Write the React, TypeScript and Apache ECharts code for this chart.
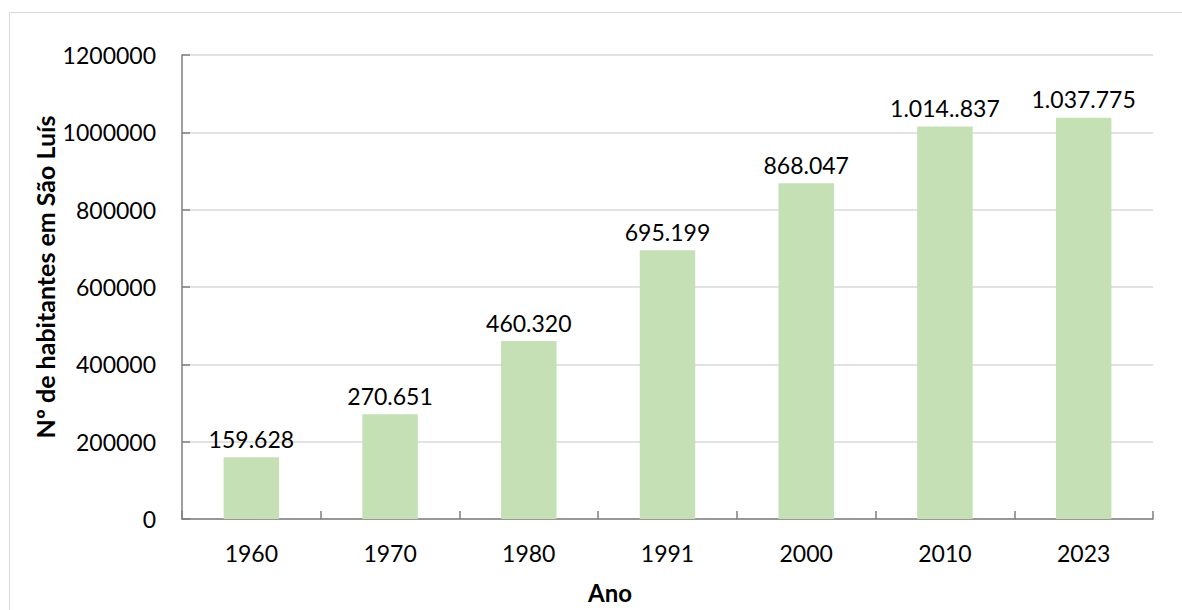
import React, { useEffect, useRef } from "react";
import * as echarts from "echarts";

const years = ["1960", "1970", "1980", "1991", "2000", "2010", "2023"];
const population = [159628, 270651, 460320, 695199, 868047, 1014837, 1037775];
const valueLabels = ["159.628", "270.651", "460.320", "695.199", "868.047", "1.014..837", "1.037.775"];
const yTicks = { min: 0, max: 1200000, interval: 200000 };
const xTitle = "Ano";
const yTitle = "Nº de habitantes em São Luís";

const FONT = "Lato";

export default function App() {
  const ref = useRef<HTMLDivElement>(null);
  useEffect(() => {
    document.body.style.margin = "0";
    const chart = echarts.init(ref.current!, null, { renderer: "svg" });
    chart.setOption({
      animation: false,
      backgroundColor: "#ffffff",
      textStyle: { fontFamily: FONT },
      graphic: [
        {
          type: "rect",
          shape: { x: 9.5, y: 12.5, width: 1200, height: 700 },
          style: { fill: "none", stroke: "#d9d9d9", lineWidth: 1 },
          silent: true,
        },
        {
          type: "text",
          x: 610,
          y: 592,
          style: {
            text: xTitle,
            fontFamily: FONT,
            fontSize: 24,
            fontWeight: "bold",
            fill: "#000",
            align: "center",
            verticalAlign: "middle",
          },
        },
        {
          type: "text",
          x: 45,
          y: 277,
          rotation: Math.PI / 2,
          style: {
            text: yTitle,
            fontFamily: FONT,
            fontSize: 25,
            fontWeight: "bold",
            fill: "#000",
            align: "center",
            verticalAlign: "middle",
          },
        },
      ],
      grid: { left: 182, right: 29, top: 55, bottom: 91 },
      xAxis: {
        type: "category",
        data: years,
        axisLine: { lineStyle: { color: "#7f7f7f", width: 1.5 } },
        axisTick: { show: true, inside: true, length: 8, lineStyle: { color: "#7f7f7f", width: 1.5 } },
        axisLabel: { fontFamily: FONT, fontSize: 23, color: "#000", margin: 22 },
      },
      yAxis: {
        type: "value",
        min: yTicks.min,
        max: yTicks.max,
        interval: yTicks.interval,
        axisLine: { show: true, lineStyle: { color: "#7f7f7f", width: 1.5 } },
        axisTick: { show: true, inside: true, length: 8, lineStyle: { color: "#7f7f7f", width: 1.5 } },
        splitLine: { show: true, lineStyle: { color: "#d9d9d9", width: 1.5 } },
        axisLabel: {
          fontFamily: FONT,
          fontSize: 23,
          color: "#000",
          margin: 26,
          formatter: (v: number) => String(v),
        },
      },
      series: [
        {
          type: "bar",
          data: population,
          barWidth: "40%",
          itemStyle: { color: "#c5e0b4" },
          label: {
            show: true,
            position: "top",
            distance: 7,
            fontFamily: FONT,
            fontSize: 23,
            color: "#000",
            formatter: (p: any) => valueLabels[p.dataIndex],
          },
        },
      ],
    });
    return () => chart.dispose();
  }, []);
  return <div ref={ref} style={{ width: 1182, height: 610 }} />;
}
